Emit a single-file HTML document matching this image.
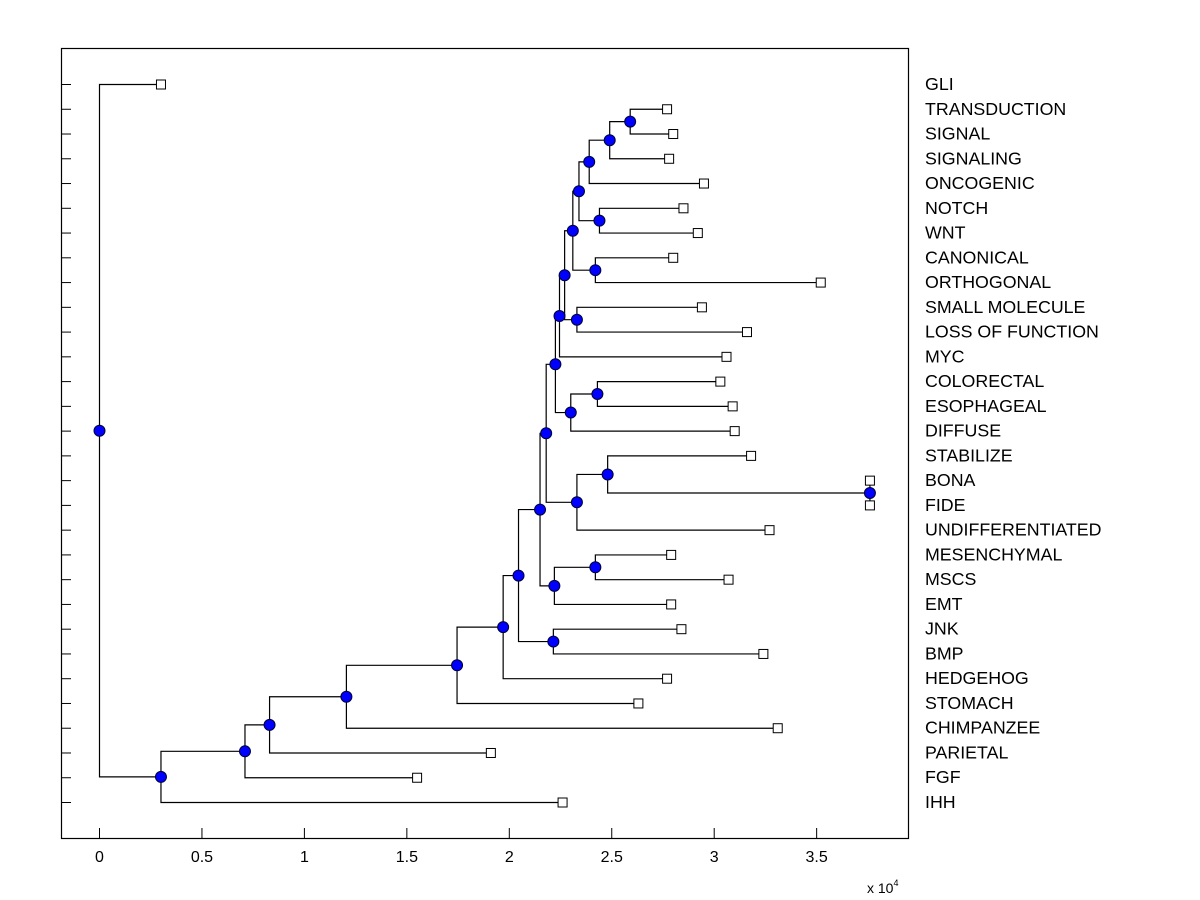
<!DOCTYPE html>
<html><head><meta charset="utf-8"><style>
body{margin:0;background:#fff;}
svg{display:block;font-family:"Liberation Sans",Arial,sans-serif;}
</style></head><body>
<svg id="chart" width="1200" height="900">
<rect x="0" y="0" width="1200" height="900" fill="#fff"/>
<g id="marks"></g>
</svg>
<script>
const leafNames=["GLI","TRANSDUCTION","SIGNAL","SIGNALING","ONCOGENIC","NOTCH","WNT","CANONICAL","ORTHOGONAL","SMALL MOLECULE","LOSS OF FUNCTION","MYC","COLORECTAL","ESOPHAGEAL","DIFFUSE","STABILIZE","BONA","FIDE","UNDIFFERENTIATED","MESENCHYMAL","MSCS","EMT","JNK","BMP","HEDGEHOG","STOMACH","CHIMPANZEE","PARIETAL","FGF","IHH"];
const leafValues=[0.30,2.77,2.80,2.78,2.95,2.85,2.92,2.80,3.52,2.94,3.16,3.06,3.03,3.09,3.10,3.18,3.76,3.76,3.27,2.79,3.07,2.79,2.84,3.24,2.77,2.63,3.31,1.91,1.55,2.26];
const mergeLeft=[1,30,31,5,32,7,34,9,36,38,12,40,39,16,15,44,42,19,47,46,22,49,51,52,53,54,55,56,0];
const mergeRight=[2,3,4,6,33,8,35,10,37,11,13,14,41,17,43,18,45,20,21,48,23,50,24,25,26,27,28,29,57];
const mergeHeights=[2.59,2.49,2.39,2.44,2.34,2.42,2.31,2.33,2.27,2.245,2.43,2.30,2.225,3.76,2.48,2.33,2.18,2.42,2.22,2.15,2.215,2.045,1.97,1.745,1.205,0.83,0.71,0.30,0];
const xTicks=[0,0.5,1,1.5,2,2.5,3,3.5];
const xTickLabels=["0","0.5","1","1.5","2","2.5","3","3.5"];

const NS="http://www.w3.org/2000/svg";
const svg=document.getElementById('chart');
const g=document.getElementById('marks');
const L=61,R=908,T=48,B=838;
const xs=v=>99+v*204.9;
const ys=i=>84+i*(802-84)/(leafNames.length-1);
function mk(tag,attrs,parent){const e=document.createElementNS(NS,tag);for(const k in attrs)e.setAttribute(k,attrs[k]);(parent||g).appendChild(e);return e;}

let box=mk('rect',{x:L+.5,y:T+.5,width:R-L,height:B-T,fill:'none',stroke:'#000','stroke-width':1.2});



const nx=[],ny=[];
leafValues.forEach((v,i)=>{nx[i]=xs(v);ny[i]=ys(i);});
const n0=leafNames.length;
mergeHeights.forEach((h,k)=>{const id=n0+k;nx[id]=xs(h);ny[id]=(ny[mergeLeft[k]]+ny[mergeRight[k]])/2;});

leafNames.forEach((n,i)=>{
  let t=mk('line',{x1:L,x2:L+10,y1:ys(i)+0.5,y2:ys(i)+0.5,stroke:'#000'});
  
  
  let tx=mk('text',{x:925,y:ys(i)+6,'font-size':17.8,fill:'#000'});
  tx.textContent=n;
  
  
});
xTicks.forEach((v,i)=>{
  let t=mk('line',{x1:xs(v)+0.5,x2:xs(v)+0.5,y1:B,y2:B-10,stroke:'#000'});
  
  
  let tx=mk('text',{x:xs(v)+0.5,y:862,'font-size':16,'text-anchor':'middle',fill:'#000'});
  tx.textContent=xTickLabels[i];
  
  
});
let ex=mk('text',{x:867,y:893,'font-size':14,fill:'#000'});
ex.innerHTML='x 10<tspan dy="-7" font-size="9">4</tspan>';



mergeHeights.forEach((h,k)=>{
  const id=n0+k,a=mergeLeft[k],b=mergeRight[k];
  let p=mk('path',{d:`M${nx[a]+.5},${ny[a]+.5}H${nx[id]+.5}V${ny[b]+.5}H${nx[b]+.5}`,fill:'none',stroke:'#000','stroke-width':1.2});
  
  
});
leafNames.forEach((n,i)=>{
  let s=mk('rect',{x:nx[i]-4,y:ny[i]-4,width:9,height:9,fill:'#fff',stroke:'#000'});
  
  
});
mergeHeights.forEach((h,k)=>{
  const id=n0+k;
  let c=mk('circle',{cx:nx[id]+.5,cy:ny[id]+.5,r:5.5,fill:'#0000ff',stroke:'#000033','stroke-width':1});
  
  
});
</script>
</body></html>
